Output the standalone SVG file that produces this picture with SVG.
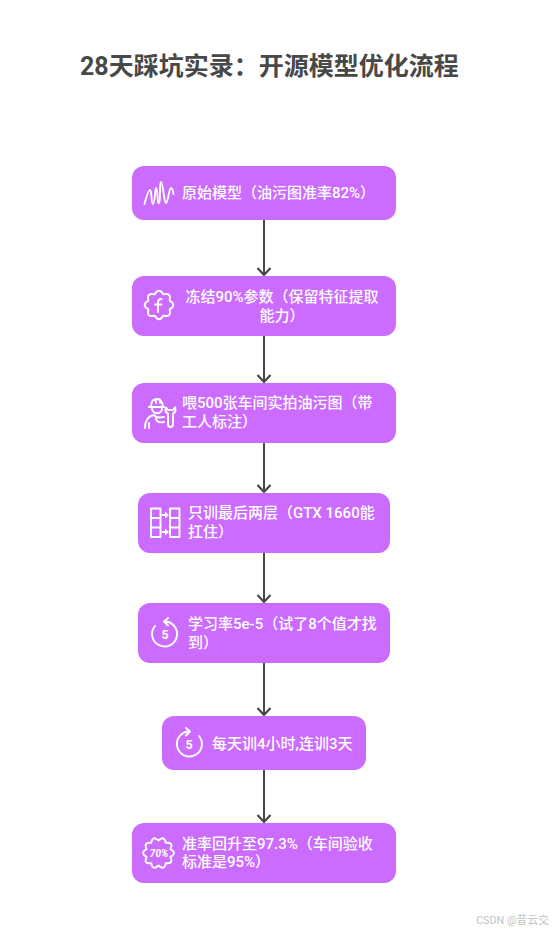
<svg xmlns="http://www.w3.org/2000/svg" width="552" height="931" viewBox="0 0 552 931">
<style>
text{font-family:Roboto,"Noto Sans CJK SC",sans-serif}
.title{font-size:25px;font-weight:700;fill:#484848}
.n{fill:#cb6bff}
.t{font-size:15px;font-weight:500;fill:#fff}
.i{fill:none;stroke:#fff;stroke-width:1.900;stroke-linecap:round;stroke-linejoin:round}
.in{font-size:12.500px;font-weight:700;fill:#fff;text-anchor:middle}
.c{fill:none;stroke:#484848;stroke-width:2}
.w{font-size:10.800px;fill:#c4c4c4}
</style>
<defs>
<marker id="a" markerWidth="18" markerHeight="12" refX="8" refY="6" orient="auto-start-reverse" markerUnits="userSpaceOnUse" viewBox="0 0 18 12" overflow="visible"><path d="M1 -.5L8 6L1 12.500" fill="none" stroke="#484848" stroke-width="2.200"/></marker>
</defs>
<rect width="552" height="931" fill="#fff"/>
<text class="title" x="80" y="75">28天踩坑实录：开源模型优化流程</text>
<g id="connectors">
<path class="c" d="M264 220V275" marker-end="url(#a)"/>
<path class="c" d="M264 336V382" marker-end="url(#a)"/>
<path class="c" d="M264 443V492" marker-end="url(#a)"/>
<path class="c" d="M264 553V602" marker-end="url(#a)"/>
<path class="c" d="M264 663V715" marker-end="url(#a)"/>
<path class="c" d="M264 770V822" marker-end="url(#a)"/>
</g>
<g id="n1">
<rect class="n" x="132" y="166" width="264" height="54" rx="12"/>
<path class="i" stroke-width="2.200" d="M144.500 204C146 198 148 190 150 190C152 190 151 204 153 204C155 204 155 188 156 188C158 188 157 204 159 203C161 202 159 182 161 182C163 182 164 203 166 203C168 203 169 188 171 188C172.500 188 173 191 173.500 194"/>
<text class="t" x="182" y="198">原始模型（油污图准率82%）</text>
</g>
<g id="n2">
<rect class="n" x="132" y="276" width="264" height="60" rx="12"/>
<path class="i" d="M169.600 300.600Q177 305 169.600 309.400Q171.700 317.700 163.400 315.600Q159 323 154.600 315.600Q146.300 317.700 148.400 309.400Q141 305 148.400 300.600Q146.300 292.300 154.600 294.400Q159 287 163.400 294.400Q171.700 292.300 169.600 300.600Z"/>
<path class="i" d="M158 312V302.500Q158 299 161.500 299M155 304.500H161.500"/>
<text class="t" x="282" y="302" text-anchor="middle">冻结90%参数（保留特征提取</text>
<text class="t" x="282" y="321" text-anchor="middle">能力）</text>
</g>
<g id="n3">
<rect class="n" x="132" y="383" width="264" height="60" rx="12"/>
<path class="i" d="M149 407H164M151 407C151 401 154 399 157 399C160 399 163 402 163 407M156 399V403M160 399.500V403M152 408C152 415 162 415 162 408M145 428C145 420 149 416 154 415C156 418 159 418 164 417M149 428V423M156 418C156 422 160 423 164 422"/>
<path class="i" d="M166 407.500C165 410 166 412.500 168 413.500V424C168 428 173 428 173 424V413.500C175 412.500 176 410 175 407.500L173 410H168Z"/>
<text class="t" x="182" y="408">喂500张车间实拍油污图（带</text>
<text class="t" x="182" y="427">工人标注）</text>
</g>
<g id="n4">
<rect class="n" x="138" y="493" width="252" height="60" rx="12"/>
<path class="i" d="M151 508.500H160.500V537H151ZM151 518H160.500M151 527.500H160.500M170 508.500H179.500V537H170ZM170 518H179.500M170 527.500H179.500"/>
<path class="i" d="M162.500 515H166M162.500 532H166"/>
<path d="M165 511.500L169 515L165 518.500ZM165 528.500L169 532L165 535.500Z" fill="#fff"/>
<text class="t" x="188" y="518">只训最后两层（GTX 1660能</text>
<text class="t" x="188" y="537">扛住）</text>
</g>
<g id="n5">
<rect class="n" x="138" y="603" width="252" height="60" rx="12"/>
<path class="i" d="M164.500 621.500A12.500 12.500 0 1 1 155 626M168 618L164 621.500L168 625.500"/>
<text class="in" x="165" y="639">5</text>
<text class="t" x="188" y="629">学习率5e-5（试了8个值才找</text>
<text class="t" x="188" y="648">到）</text>
</g>
<g id="n6">
<rect class="n" x="162" y="716" width="204" height="54" rx="12"/>
<path class="i" d="M189.500 731.500A12.500 12.500 0 1 0 199 736M186 728L190 731.500L186 735.500"/>
<text class="in" x="189" y="749">5</text>
<text class="t" x="212" y="748.500">每天训4小时,连训3天</text>
</g>
<g id="n7">
<rect class="n" x="132" y="823" width="264" height="60" rx="12"/>
<path class="i" d="M170.400 849.100Q177.500 853 170.400 856.900Q173.900 864.200 165.800 863.100Q164.400 871.100 158.500 865.500Q152.600 871.100 151.200 863.100Q143.100 864.200 146.600 856.900Q139.500 853 146.600 849.100Q143.100 841.800 151.200 842.900Q152.600 834.900 158.500 840.500Q164.400 834.900 165.800 842.900Q173.900 841.800 170.400 849.100Z"/>
<text x="159" y="856.500" font-size="10" font-weight="700" font-style="italic" fill="#fff" text-anchor="middle">70%</text>
<text class="t" x="182" y="848.500">准率回升至97.3%（车间验收</text>
<text class="t" x="182" y="867">标准是95%）</text>
</g>
<text class="w" x="476" y="924">CSDN @昔云交</text>
</svg>
